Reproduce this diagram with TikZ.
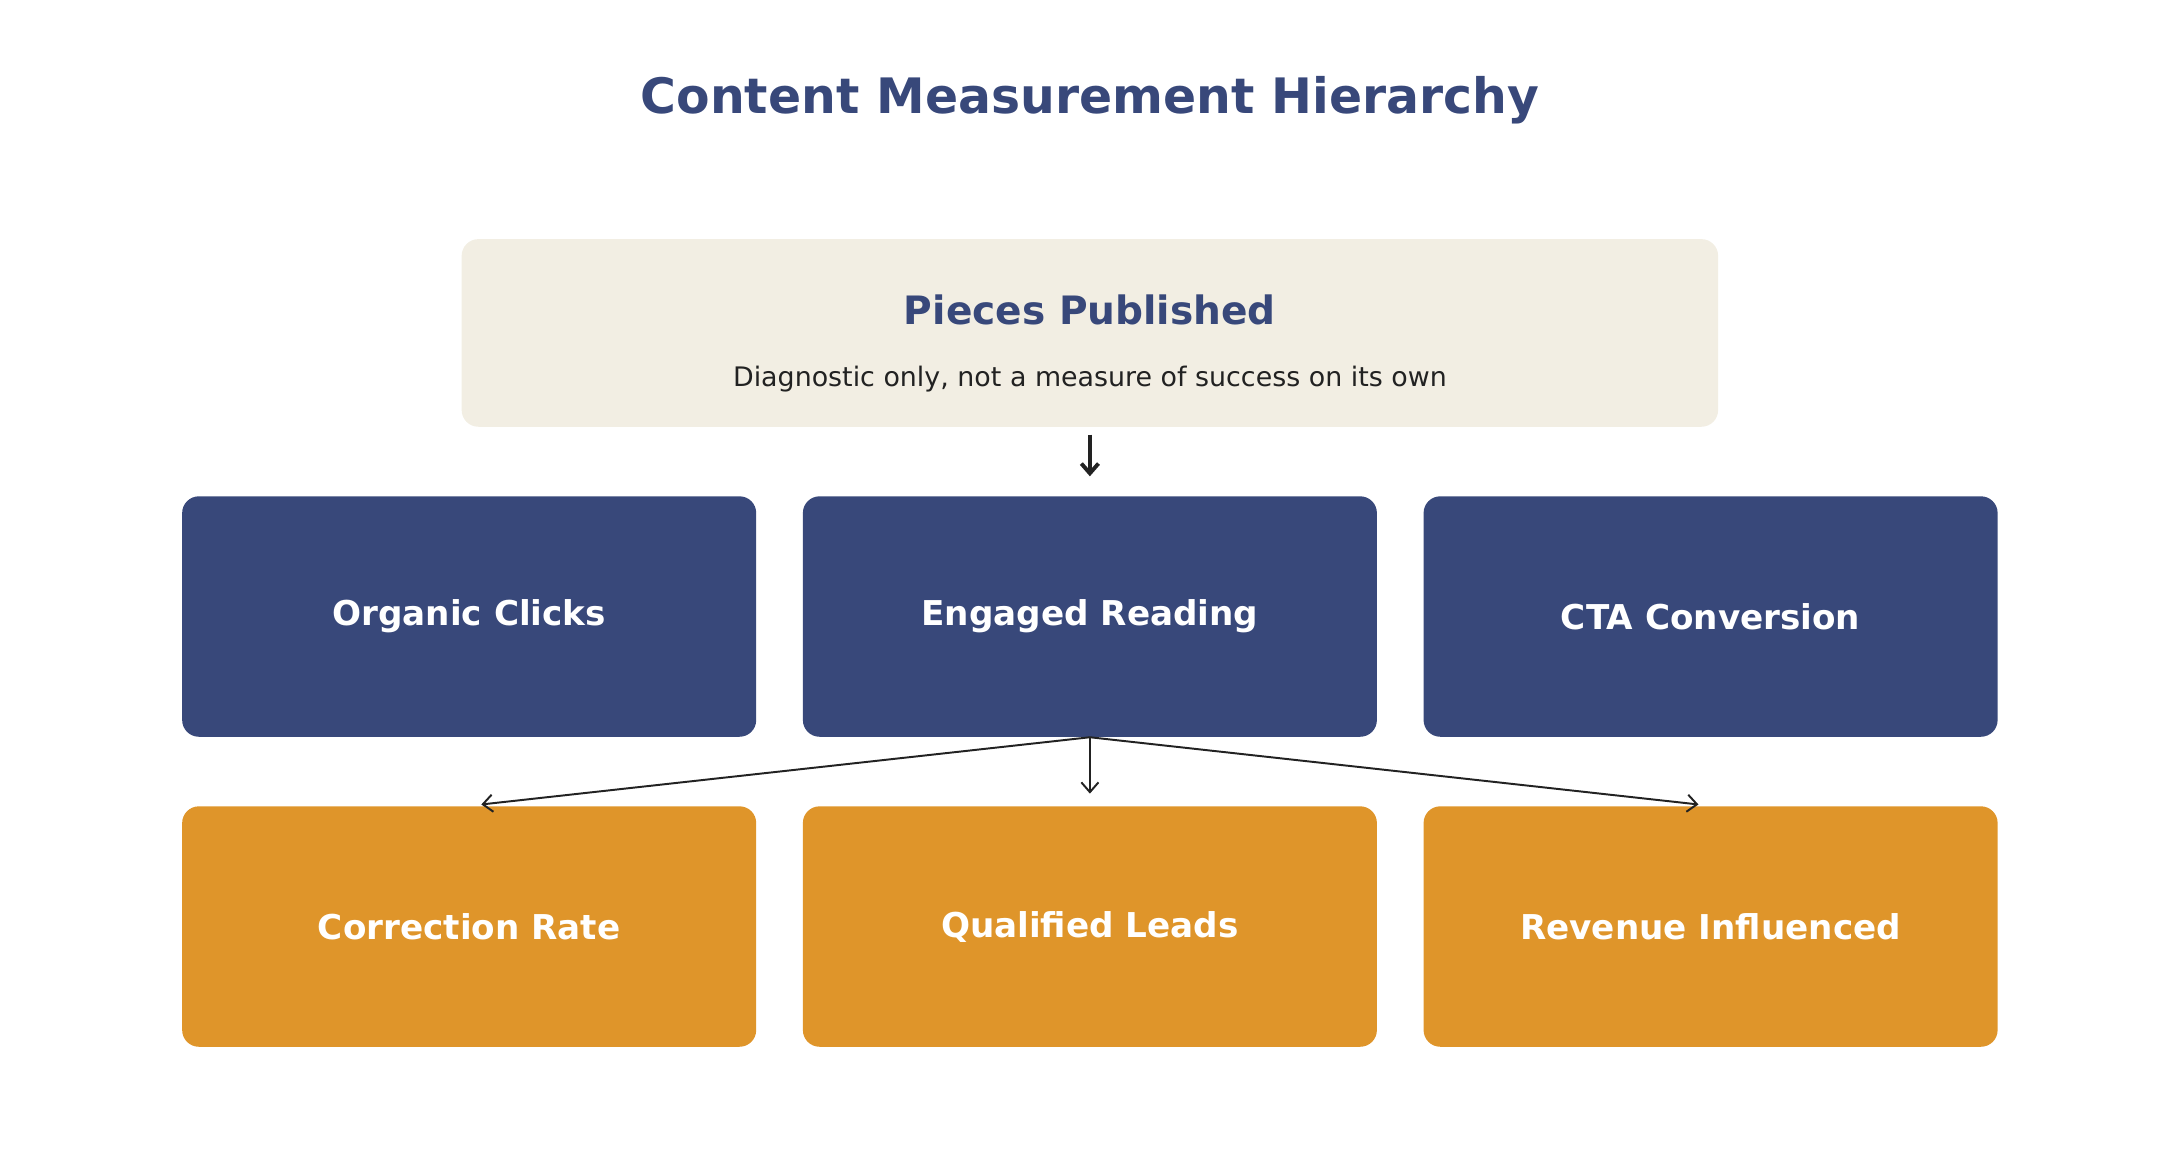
\documentclass[tikz,border=0pt]{standalone}
\usepackage{fontspec}
\setmainfont{DejaVu Sans}
\usetikzlibrary{arrows.meta}
\definecolor{navy}{HTML}{38487A}
\definecolor{cream}{HTML}{F2EEE3}
\definecolor{amber}{HTML}{DF952A}
\definecolor{ink}{HTML}{222222}
\begin{document}
\begin{tikzpicture}[x=0.02cm,y=-0.02cm]
    \tikzstyle{card}=[rectangle,rounded corners=0.24cm,minimum width=8.26cm,minimum height=3.46cm,inner sep=0pt,text=white,font=\fontsize{14}{16}\selectfont\bfseries]
    \tikzstyle{metric}=[card,fill=navy]
    \tikzstyle{outcome}=[card,fill=amber]
    \tikzstyle{link}=[->,>={Straight Barb[length=4pt,width=7pt]},draw=ink,line width=0.8pt]

    \useasboundingbox (0,0) rectangle (1566,837);

    % title
    \node[text=navy,font=\fontsize{20}{24}\selectfont\bfseries] (title) at (784,72) {Content Measurement Hierarchy};

    % top box
    \node[rectangle,rounded corners=0.24cm,fill=cream,minimum width=18.08cm,minimum height=2.7cm] (pieces) at (784,239.5) {};
    \node[text=navy,font=\fontsize{16}{19}\selectfont\bfseries] (pieces-t) at (784,223) {Pieces Published};
    \node[text=ink,font=\fontsize{11}{13}\selectfont] (pieces-s) at (784,273) {Diagnostic only, not a measure of success on its own};

    % middle row
    \node[metric] (organic) at (337.5,443.5) {Organic Clicks};
    \node[metric] (engaged) at (784,443.5) {Engaged Reading};
    \node[metric] (cta) at (1230.5,443.5) {CTA Conversion};

    % bottom row
    \node[outcome] (correction) at (337.5,666.5) {Correction Rate};
    \node[outcome] (leads) at (784,666.5) {Qualified Leads};
    \node[outcome] (revenue) at (1230.5,666.5) {Revenue Influenced};

    % connectors
    \draw[link,line width=1.6pt,shorten <=3pt,shorten >=8pt] (pieces.south) -- (engaged.north);
    \foreach \dst in {correction,leads,revenue}
    \draw[link,shorten >=5pt] (engaged.south) -- (\dst.north);
\end{tikzpicture}
\end{document}
